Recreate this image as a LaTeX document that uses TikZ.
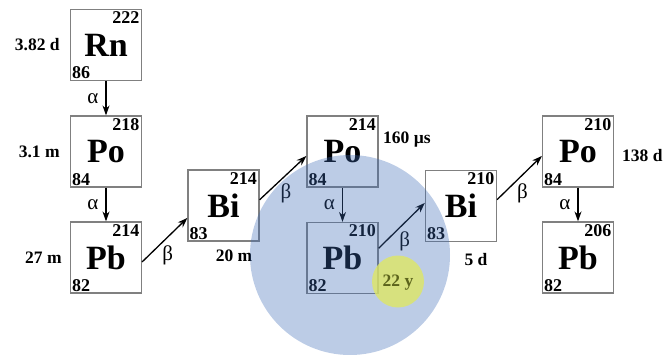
\documentclass[tikz,border=0pt]{standalone}
\usepackage{fontspec}
\setmainfont{Liberation Serif}
\usepackage{tikz}
\usetikzlibrary{positioning,arrows.meta}
\definecolor{grey500} {RGB}{128,128,128}
\definecolor{blue500} {RGB}{60,106,182}
\definecolor{lime300} {RGB}{222,230,100}
\definecolor{olive700}{RGB}{92,100,28}
\newcommand{\nucl}[5]{%
  \node[nuc] (#1) at (#2) {#3};
  \node[mass] (#1-a) at (#1.north east) {#4};
  \node[zed] (#1-z) at (#1.south west) {#5};}
\tikzset{
  nuc/.style  ={draw=grey500, line width=1.2pt, minimum size=71pt,
                inner sep=0pt, font=\bfseries\fontsize{34}{34}\selectfont},
  mass/.style ={anchor=north east, inner sep=2.5pt,
                font=\bfseries\fontsize{18}{18}\selectfont},
  zed/.style  ={anchor=south west, inner sep=2pt,
                font=\bfseries\fontsize{18}{18}\selectfont},
  half/.style ={inner sep=0pt, font=\bfseries\fontsize{17.5}{18}\selectfont},
  greek/.style={inner sep=1pt, font=\fontsize{21}{21}\selectfont},
  alf/.style  ={greek, left=6pt},
  bet/.style  ={greek, below=4pt, xshift=3pt},
  ar/.style   ={-{Stealth[length=10pt,width=7pt]}, line width=1.3pt},
  blob/.style ={fill=blue500, fill opacity=0.34},
  spot/.style ={fill=lime300, fill opacity=0.8}
}
\begin{document}
\begin{tikzpicture}[x=1pt,y=-1pt]
\useasboundingbox (0,0) rectangle (664,354);
\nucl{rn}{106,45}{Rn}{222}{86}
\nucl{po1}{106,151.5}{Po}{218}{84}
\nucl{pb1}{106,257.5}{Pb}{214}{82}
\nucl{bi1}{223.5,205.5}{Bi}{214}{83}
\nucl{po2}{342.5,151.5}{Po}{214}{84}
\nucl{pb2}{342.5,258}{Pb}{210}{82}
\nucl{bi2}{461,206}{Bi}{210}{83}
\nucl{po3}{578,151.5}{Po}{210}{84}
\nucl{pb3}{578,257.5}{Pb}{206}{82}

\node[half, left=10pt of rn] (t-rn) {3.82 d};
\node[half, left=10pt of po1] (t-po1) {3.1 m};
\node[half, left=8pt of pb1] (t-pb1) {27 m};
\node[half] (t-bi1) at (234,256) {20 m};
\node[half, anchor=west] (t-po2) at (383,140) {160 µs};
\node[half] (t-bi2) at (476,260) {5 d};
\node[half, anchor=west] (t-po3) at (622,156) {138 d};

\draw[ar] (rn) -- node[alf]{α} (po1);
\draw[ar] (po1) -- node[alf]{α} (pb1);
\draw[ar] (pb1.353) -- node[bet]{β} (bi1.199);
\draw[ar] (bi1.9) -- node[bet]{β} (po2.187);
\draw[ar] (po2) -- node[alf]{α} (pb2);
\draw[ar] (pb2.15) -- node[bet]{β} (bi2.175);
\draw[ar] (bi2.10) -- node[bet]{β} (po3.187);
\draw[ar] (po3) -- node[alf]{α} (pb3);

% the shaded discs sit over the chain
\fill[blob] (350,255) circle[radius=100pt];
\fill[spot] (398,281.5) circle[radius=26pt];
\node[half, text=olive700] (t-pb2) at (398,283) {22 y};
\end{tikzpicture}
\end{document}
